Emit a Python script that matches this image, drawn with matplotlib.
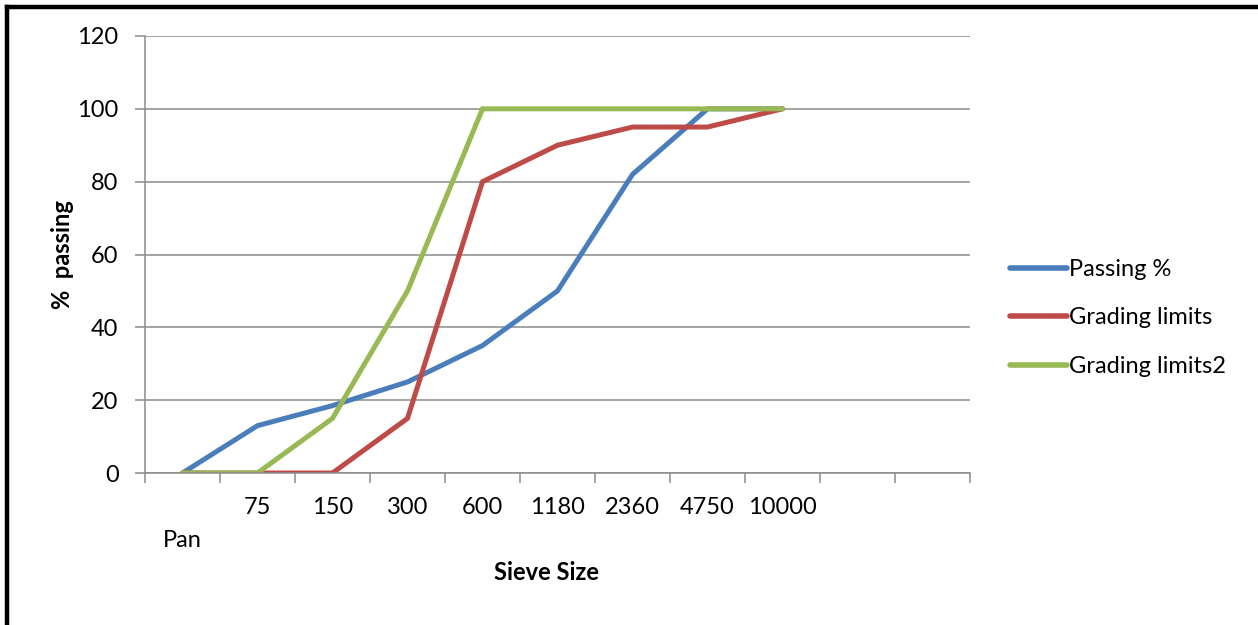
import matplotlib
matplotlib.use("Agg")
import matplotlib.pyplot as plt
import matplotlib.transforms as mtransforms
from matplotlib.lines import Line2D

plt.rcParams['font.family'] = ['Lato', 'DejaVu Sans']

categories = ["Pan", "75", "150", "300", "600", "1180", "2360", "4750", "10000", "", ""]
passing = [0, 13, 18.5, 25, 35, 50, 82, 100, 100]
grading_limits = [0, 0, 0, 15, 80, 90, 95, 95, 100]
grading_limits2 = [0, 0, 15, 50, 100, 100, 100, 100, 100]
series_names = ["Passing %", "Grading limits", "Grading limits2"]
yticks = [0, 20, 40, 60, 80, 100, 120]

colors = ["#4A7EBB", "#BE4B48", "#98B954"]
FS = 17

W, H = 1258, 625
fig = plt.figure(figsize=(W / 100, H / 100), dpi=100)
ax = fig.add_axes([145 / W, 1 - 473 / H, (970 - 145) / W, (473 - 36) / H])

x = list(range(len(passing)))
for vals, name, c in zip([passing, grading_limits, grading_limits2], series_names, colors):
    ax.plot(x, vals, color=c, lw=3.6, label=name, solid_capstyle='round', solid_joinstyle='miter')

ax.set_xlim(-0.5, len(categories) - 0.5)
ax.set_ylim(0, 120)
ax.set_yticks(yticks)
ax.set_yticklabels([str(v) for v in yticks])
ax.yaxis.grid(True, color="#8C8C8C", lw=1.1)
ax.set_axisbelow(True)

ax.set_xticks(range(len(categories)))
ax.set_xticklabels(categories)
ax.set_xticks([i - 0.5 for i in range(len(categories) + 1)], minor=True)
ax.tick_params(axis='x', which='major', length=0, pad=17, labelsize=FS)
ax.tick_params(axis='x', which='minor', length=7, color="#8C8C8C", width=1.1)
ax.tick_params(axis='y', which='major', length=7, color="#8C8C8C", width=1.1, pad=12, labelsize=FS)

for s in ['top', 'right']:
    ax.spines[s].set_visible(False)
for s in ['left', 'bottom']:
    ax.spines[s].set_color("#8C8C8C")
    ax.spines[s].set_linewidth(1.1)

# stagger first label down
lbl0 = ax.get_xticklabels()[0]
lbl0.set_transform(lbl0.get_transform() + mtransforms.ScaledTranslation(0, -33 / 100, fig.dpi_scale_trans))

fig.text(62 / W, 1 - 255 / H, "%  passing", rotation=90, ha='center', va='center',
         fontsize=FS, fontweight='bold')
fig.text(546 / W, 1 - 573 / H, "Sieve Size", ha='center', va='center',
         fontsize=FS, fontweight='bold')

leg = ax.legend(loc='center left', bbox_to_anchor=(1010 / W, 1 - 318 / H),
                bbox_transform=fig.transFigure, frameon=False, fontsize=FS,
                handlelength=2.4, handletextpad=0.1, labelspacing=1.17, borderaxespad=0,
                borderpad=0)
for line in leg.get_lines():
    line.set_linewidth(4)

# figure frame: top and left thick black lines
fig.add_artist(Line2D([7 / W, 1], [1 - 7 / H, 1 - 7 / H], transform=fig.transFigure, color='black', lw=3.2))
fig.add_artist(Line2D([7 / W, 7 / W], [0, 1 - 7 / H], transform=fig.transFigure, color='black', lw=3.2))

fig.savefig("out.png", dpi=100)
